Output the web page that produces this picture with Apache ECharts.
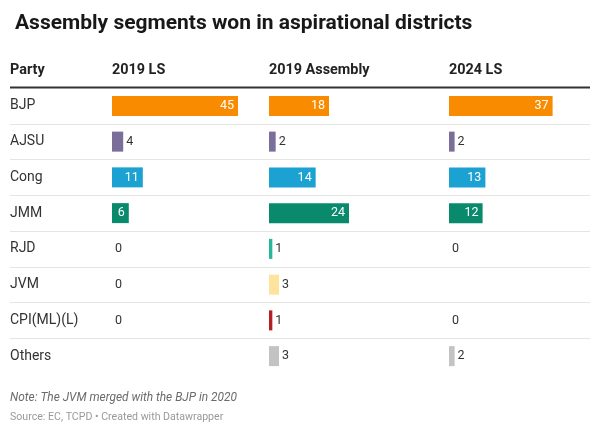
<!DOCTYPE html>
<html>
<head>
<meta charset="utf-8">
<script src="https://cdn.jsdelivr.net/npm/echarts@6/dist/echarts.min.js"></script>
<style>
html,body{margin:0;padding:0;background:#fff;}
#chart{width:600px;height:434px;}
</style>
</head>
<body>
<div id="chart"></div>
<script>
const titleText = 'Assembly segments won in aspirational districts';
const headers = ['Party', '2019 LS', '2019 Assembly', '2024 LS'];
const parties = ['BJP', 'AJSU', 'Cong', 'JMM', 'RJD', 'JVM', 'CPI(ML)(L)', 'Others'];
const partyColors = ['#f98b00', '#7b6e98', '#1ca2d2', '#0a8a6c', '#27b799', '#fde39b', '#b41f24', '#c3c3c3'];
const ls2019 = [45, 4, 11, 6, 0, 0, 0, null];
const assembly2019 = [18, 2, 14, 24, 1, 3, 1, 3];
const ls2024 = [37, 2, 13, 12, 0, null, 0, 2];
const noteText = 'Note: The JVM merged with the BJP in 2020';
const sourceText = 'Source: EC, TCPD \u2022 Created with Datawrapper';

const FONT = 'Roboto, "Noto Sans", sans-serif';
const top0 = 88, rowH = 35.75;
const columns = [
  {data: ls2019, left: 112, width: 126, max: 45},
  {data: assembly2019, left: 269, width: 80, max: 24},
  {data: ls2024, left: 449, width: 126, max: 45}
];

function items(arr) {
  return arr.map((v, i) => {
    if (v === null) return {value: '-'};
    const inside = v >= 5;
    return {
      value: v,
      itemStyle: {color: partyColors[i]},
      label: {
        show: true,
        position: inside ? 'insideRight' : 'right',
        distance: inside ? 4 : 3,
        color: inside ? '#ffffff' : '#333333',
        fontSize: 12.5,
        fontFamily: FONT
      }
    };
  });
}

const grids = [{left: 10, right: 10, top: top0 + rowH, height: rowH * (parties.length - 2)}];
const xAxes = [{gridIndex: 0, type: 'value', show: false}];
const yAxes = [{
  gridIndex: 0, type: 'value', min: 0, max: parties.length - 2, interval: 1,
  axisLine: {show: false}, axisTick: {show: false}, axisLabel: {show: false},
  splitLine: {show: true, lineStyle: {color: '#e4e4e4', width: 1}}
}];
const series = [];
columns.forEach((c, k) => {
  const gi = k + 1;
  grids.push({left: c.left, top: top0, width: c.width, height: rowH * parties.length});
  xAxes.push({gridIndex: gi, type: 'value', min: 0, max: c.max, show: false});
  yAxes.push({
    gridIndex: gi, type: 'category', data: parties, inverse: true,
    axisLine: {show: false}, axisTick: {show: false}, splitLine: {show: false},
    axisLabel: k === 0 ? {show: true, align: 'left', margin: c.left - 10, fontSize: 14, color: '#333', fontFamily: FONT} : {show: false}
  });
  series.push({
    type: 'bar', xAxisIndex: gi, yAxisIndex: gi, barWidth: 20,
    data: items(c.data), animation: false
  });
});

const headerX = [10, 112, 269, 449];
const graphics = headers.map((h, i) => ({
  type: 'text', left: headerX[i], top: 63,
  style: {text: h, font: 'bold 14.4px ' + FONT, fill: '#222'}
}));
graphics.push({
  type: 'line', shape: {x1: 10, y1: 87.5, x2: 590, y2: 87.5},
  style: {stroke: '#333', lineWidth: 2}
});
graphics.push({type: 'text', left: 10, top: 392, style: {text: noteText, font: 'italic 11.9px ' + FONT, fill: '#6b6b6b'}});
graphics.push({type: 'text', left: 10, top: 412, style: {text: sourceText, font: '10.6px ' + FONT, fill: '#999'}});

const chart = echarts.init(document.getElementById('chart'), null, {renderer: 'canvas'});
chart.setOption({
  animation: false,
  backgroundColor: '#fff',
  title: {text: titleText, left: 10, top: 8, textStyle: {fontSize: 21, fontWeight: 'bold', color: '#181818', fontFamily: FONT}},
  grid: grids,
  xAxis: xAxes,
  yAxis: yAxes,
  series: series,
  graphic: graphics
});
</script>
</body>
</html>
